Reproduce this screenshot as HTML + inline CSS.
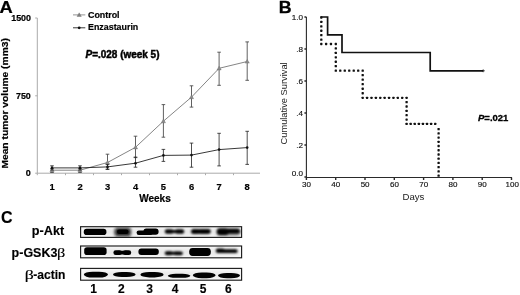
<!DOCTYPE html>
<html><head><meta charset="utf-8">
<style>
html,body{margin:0;padding:0;background:#fff;}
svg{display:block;will-change:transform;opacity:0.999;font-family:"Liberation Sans",sans-serif;}
.b{font-weight:bold;}
#pA text{stroke:#000;stroke-width:0.2px;}
#pC text{stroke:#000;stroke-width:0.15px;}
</style></head>
<body>
<svg width="520" height="295" viewBox="0 0 520 295">
<defs>
<filter id="bl" x="-20%" y="-50%" width="140%" height="200%"><feGaussianBlur stdDeviation="0.75"/></filter>
<filter id="bl3" x="-20%" y="-50%" width="140%" height="200%"><feGaussianBlur stdDeviation="1"/></filter>
<filter id="bl2" x="-20%" y="-50%" width="140%" height="200%"><feGaussianBlur stdDeviation="1.4"/></filter>
<clipPath id="c1"><rect x="80.6" y="226.7" width="161" height="10.7"/></clipPath><clipPath id="c2"><rect x="80.6" y="246" width="161" height="11.8"/></clipPath>
</defs>
<rect width="520" height="295" fill="#fff"/>

<!-- Panel A -->
<g id="pA">
<text transform="translate(-0.6,12.5) scale(1.16,1)" class="b" font-size="15.8" stroke="#000" stroke-width="0.3">A</text>
<text x="11.2" y="21.4" class="b" font-size="8.6" textLength="19.8" lengthAdjust="spacingAndGlyphs">1500</text>
<text x="16" y="98.8" class="b" font-size="8.6" textLength="14.8" lengthAdjust="spacingAndGlyphs">750</text>
<text x="25.8" y="176.2" class="b" font-size="8.6" textLength="5" lengthAdjust="spacingAndGlyphs">0</text>
<text transform="translate(7.5,168.6) rotate(-90)" class="b" font-size="9.2" textLength="130.5" lengthAdjust="spacingAndGlyphs">Mean tumor volume (mm3)</text>
<g stroke="#aaa" stroke-width="1" fill="none">
<path d="M37.3 18V173.2H260"/>
<path d="M35.2 18h2.1M35.2 95.8h2.1M35.2 173.2h2.1"/>
<path d="M37.3 173.2v2M65.5 173.2v2M93.5 173.2v2M121.5 173.2v2M149.5 173.2v2M177.5 173.2v2M205.5 173.2v2M233.5 173.2v2"/>
</g>
<!-- control -->
<g stroke="#444" stroke-width="0.85" fill="none">
<path d="M107.5 154.2V169M105.7 154.2h3.6M105.7 169h3.6"/>
<path d="M135.5 136.2V157.6M133.7 136.2h3.6M133.7 157.6h3.6"/>
<path d="M163.4 104.6V137.2M161.6 104.6h3.6M161.6 137.2h3.6"/>
<path d="M191.5 85.8V107.1M189.7 85.8h3.6M189.7 107.1h3.6"/>
<path d="M219.1 52.2V85.3M217.3 52.2h3.6M217.3 85.3h3.6"/>
<path d="M247.2 41.9V80.3M245.4 41.9h3.6M245.4 80.3h3.6"/>
<path d="M52 168.5V172.5M50.2 168.5h3.6M50.2 172.5h3.6M80 168.5V172.5M78.2 168.5h3.6M78.2 172.5h3.6"/>
</g>
<polyline points="52,170.2 80,170.2 107.5,162.5 135.5,147.3 163.4,121.2 191.5,97.1 219.1,68.3 247.2,61.5" fill="none" stroke="#777" stroke-width="0.9"/>
<g fill="#8c8c8c" stroke="#6a6a6a" stroke-width="0.4">
<path d="M52 168.1l2.1 3.7h-4.2zM80 168.1l2.1 3.7h-4.2zM107.5 160.4l2.1 3.7h-4.2zM135.5 145.2l2.1 3.7h-4.2zM163.4 119.1l2.1 3.7h-4.2zM191.5 95.0l2.1 3.7h-4.2zM219.1 66.2l2.1 3.7h-4.2zM247.2 59.4l2.1 3.7h-4.2z"/>
</g>
<!-- enzastaurin -->
<g stroke="#222" stroke-width="0.8" fill="none">
<path d="M52 165.8V170M50.2 165.8h3.6M50.2 170h3.6M80 165.8V170M78.2 165.8h3.6M78.2 170h3.6"/>
<path d="M107.5 164.5V169.5M105.7 164.5h3.6M105.7 169.5h3.6"/>
<path d="M135.5 157.1V167.2M133.7 157.1h3.6M133.7 167.2h3.6"/>
<path d="M163.4 149.4V161.4M161.6 149.4h3.6M161.6 161.4h3.6"/>
<path d="M191.5 143.1V167.2M189.7 143.1h3.6M189.7 167.2h3.6"/>
<path d="M219.1 133.3V165.9M217.3 133.3h3.6M217.3 165.9h3.6"/>
<path d="M247.2 131.3V164.4M245.4 131.3h3.6M245.4 164.4h3.6"/>
</g>
<polyline points="52,167.9 80,167.9 107.5,166.9 135.5,163.2 163.4,155.4 191.5,155.1 219.1,149.6 247.2,147.6" fill="none" stroke="#222" stroke-width="0.9"/>
<g fill="#111">
<circle cx="52" cy="167.9" r="1.3"/><circle cx="80" cy="167.9" r="1.3"/><circle cx="107.5" cy="166.9" r="1.3"/><circle cx="135.5" cy="163.2" r="1.3"/><circle cx="163.4" cy="155.4" r="1.3"/><circle cx="191.5" cy="155.1" r="1.3"/><circle cx="219.1" cy="149.6" r="1.3"/><circle cx="247.2" cy="147.6" r="1.3"/>
</g>
<g class="b" font-size="9.4" text-anchor="middle">
<text x="52" y="190">1</text><text x="80" y="190">2</text><text x="107.5" y="190">3</text><text x="135.5" y="190">4</text><text x="163.4" y="190">5</text><text x="191.5" y="190">6</text><text x="219.1" y="190">7</text><text x="247.2" y="190">8</text>
</g>
<text x="155" y="202" class="b" font-size="10" text-anchor="middle">Weeks</text>
<!-- legend -->
<path d="M73 14.9h12.3" stroke="#888" stroke-width="0.9"/>
<path d="M79.2 12.8l2.1 3.7h-4.2z" fill="#808080" stroke="#6a6a6a" stroke-width="0.4"/>
<text x="88" y="18" class="b" font-size="9.6" textLength="31.6" lengthAdjust="spacingAndGlyphs">Control</text>
<path d="M73 27.8h12.3" stroke="#222" stroke-width="0.9"/>
<circle cx="79.2" cy="27.8" r="1.4" fill="#111"/>
<text x="88" y="30.4" class="b" font-size="9.6" textLength="50.3" lengthAdjust="spacingAndGlyphs">Enzastaurin</text>
<text x="85.5" y="58.4" class="b" font-size="10" textLength="74" lengthAdjust="spacingAndGlyphs" style="stroke:#000;stroke-width:0.45px"><tspan font-style="italic">P</tspan>=.028 (week 5)</text>
</g>

<!-- Panel B -->
<g id="pB">
<text transform="translate(278.8,12.5) scale(1.14,1)" class="b" font-size="15.6" stroke="#000" stroke-width="0.3">B</text>
<g font-size="8.1" text-anchor="end" fill="#111" stroke="#111" stroke-width="0.15">
<text x="303.1" y="19.9">1.0</text><text x="303.1" y="51.9">.8</text><text x="303.1" y="83.9">.6</text><text x="303.1" y="115.9">.4</text><text x="303.1" y="147.9">.2</text><text x="303" y="176">0.0</text>
</g>
<text transform="translate(287.2,144.5) rotate(-90)" font-size="9.3" fill="#222">Cumulative Survival</text>
<g stroke="#2a2a2a" stroke-width="1.1" fill="none">
<path d="M306.4 17V177.5H512"/>
<path d="M304.4 17h2M304.4 49h2M304.4 81h2M304.4 113h2M304.4 145h2M304.4 177h2" stroke-width="1.3"/>
<path d="M306.4 177.5v2.6M335.7 177.5v2.6M365 177.5v2.6M394.3 177.5v2.6M423.6 177.5v2.6M452.9 177.5v2.6M482.2 177.5v2.6M511.5 177.5v2.6" stroke-width="1.4"/>
</g>
<g font-size="8" text-anchor="middle" fill="#111" stroke="#111" stroke-width="0.15">
<text x="306.5" y="186.8">30</text><text x="335.8" y="186.8">40</text><text x="365.1" y="186.8">50</text><text x="394.4" y="186.8">60</text><text x="423.7" y="186.8">70</text><text x="453" y="186.8">80</text><text x="482.3" y="186.8">90</text><text x="512.3" y="186.8">100</text>
</g>
<text x="413.4" y="199.6" font-size="9.6" text-anchor="middle" fill="#222">Days</text>
<path d="M320.6 17H327.6V34.8H342V52.5H430.2V70.8H483" fill="none" stroke="#111" stroke-width="1.7"/>
<path d="M483.2 69.4v2.8M481.8 70.8h3" stroke="#111" stroke-width="0.8"/>
<g fill="#111"><rect x="320.15" y="16.35" width="2.3" height="2.3" rx="0.6"/><rect x="320.15" y="20.77" width="2.3" height="2.3" rx="0.6"/><rect x="320.15" y="25.18" width="2.3" height="2.3" rx="0.6"/><rect x="320.15" y="29.60" width="2.3" height="2.3" rx="0.6"/><rect x="320.15" y="34.02" width="2.3" height="2.3" rx="0.6"/><rect x="320.15" y="38.43" width="2.3" height="2.3" rx="0.6"/><rect x="320.15" y="42.85" width="2.3" height="2.3" rx="0.6"/><rect x="324.98" y="42.85" width="2.3" height="2.3" rx="0.6"/><rect x="329.82" y="42.85" width="2.3" height="2.3" rx="0.6"/><rect x="334.65" y="42.85" width="2.3" height="2.3" rx="0.6"/><rect x="334.65" y="47.28" width="2.3" height="2.3" rx="0.6"/><rect x="334.65" y="51.72" width="2.3" height="2.3" rx="0.6"/><rect x="334.65" y="56.15" width="2.3" height="2.3" rx="0.6"/><rect x="334.65" y="60.58" width="2.3" height="2.3" rx="0.6"/><rect x="334.65" y="65.02" width="2.3" height="2.3" rx="0.6"/><rect x="334.65" y="69.45" width="2.3" height="2.3" rx="0.6"/><rect x="339.13" y="69.45" width="2.3" height="2.3" rx="0.6"/><rect x="343.62" y="69.45" width="2.3" height="2.3" rx="0.6"/><rect x="348.10" y="69.45" width="2.3" height="2.3" rx="0.6"/><rect x="352.58" y="69.45" width="2.3" height="2.3" rx="0.6"/><rect x="357.07" y="69.45" width="2.3" height="2.3" rx="0.6"/><rect x="361.55" y="69.45" width="2.3" height="2.3" rx="0.6"/><rect x="361.55" y="73.98" width="2.3" height="2.3" rx="0.6"/><rect x="361.55" y="78.52" width="2.3" height="2.3" rx="0.6"/><rect x="361.55" y="83.05" width="2.3" height="2.3" rx="0.6"/><rect x="361.55" y="87.58" width="2.3" height="2.3" rx="0.6"/><rect x="361.55" y="92.12" width="2.3" height="2.3" rx="0.6"/><rect x="361.55" y="96.65" width="2.3" height="2.3" rx="0.6"/><rect x="365.94" y="96.65" width="2.3" height="2.3" rx="0.6"/><rect x="370.33" y="96.65" width="2.3" height="2.3" rx="0.6"/><rect x="374.72" y="96.65" width="2.3" height="2.3" rx="0.6"/><rect x="379.11" y="96.65" width="2.3" height="2.3" rx="0.6"/><rect x="383.50" y="96.65" width="2.3" height="2.3" rx="0.6"/><rect x="387.89" y="96.65" width="2.3" height="2.3" rx="0.6"/><rect x="392.28" y="96.65" width="2.3" height="2.3" rx="0.6"/><rect x="396.67" y="96.65" width="2.3" height="2.3" rx="0.6"/><rect x="401.06" y="96.65" width="2.3" height="2.3" rx="0.6"/><rect x="405.45" y="96.65" width="2.3" height="2.3" rx="0.6"/><rect x="405.45" y="101.00" width="2.3" height="2.3" rx="0.6"/><rect x="405.45" y="105.35" width="2.3" height="2.3" rx="0.6"/><rect x="405.45" y="109.70" width="2.3" height="2.3" rx="0.6"/><rect x="405.45" y="114.05" width="2.3" height="2.3" rx="0.6"/><rect x="405.45" y="118.40" width="2.3" height="2.3" rx="0.6"/><rect x="405.45" y="122.75" width="2.3" height="2.3" rx="0.6"/><rect x="409.54" y="122.75" width="2.3" height="2.3" rx="0.6"/><rect x="413.62" y="122.75" width="2.3" height="2.3" rx="0.6"/><rect x="417.71" y="122.75" width="2.3" height="2.3" rx="0.6"/><rect x="421.79" y="122.75" width="2.3" height="2.3" rx="0.6"/><rect x="425.88" y="122.75" width="2.3" height="2.3" rx="0.6"/><rect x="429.96" y="122.75" width="2.3" height="2.3" rx="0.6"/><rect x="434.05" y="122.75" width="2.3" height="2.3" rx="0.6"/><rect x="437.45" y="127.95" width="2.3" height="2.3" rx="0.6"/><rect x="437.45" y="132.18" width="2.3" height="2.3" rx="0.6"/><rect x="437.45" y="136.41" width="2.3" height="2.3" rx="0.6"/><rect x="437.45" y="140.64" width="2.3" height="2.3" rx="0.6"/><rect x="437.45" y="144.87" width="2.3" height="2.3" rx="0.6"/><rect x="437.45" y="149.10" width="2.3" height="2.3" rx="0.6"/><rect x="437.45" y="153.33" width="2.3" height="2.3" rx="0.6"/><rect x="437.45" y="157.56" width="2.3" height="2.3" rx="0.6"/><rect x="437.45" y="161.79" width="2.3" height="2.3" rx="0.6"/><rect x="437.45" y="166.02" width="2.3" height="2.3" rx="0.6"/><rect x="437.45" y="170.25" width="2.3" height="2.3" rx="0.6"/><rect x="437.45" y="174.48" width="2.3" height="2.3" rx="0.6"/></g>
<text x="478" y="120.6" class="b" font-size="9.8" textLength="30.4" lengthAdjust="spacingAndGlyphs" style="stroke:#000;stroke-width:0.3px"><tspan font-style="italic">P</tspan>=.021</text>
</g>

<!-- Panel C -->
<g id="pC">
<text x="1.1" y="222.6" class="b" font-size="16">C</text>
<text x="31.8" y="234.6" class="b" font-size="12.3" textLength="32.4" lengthAdjust="spacingAndGlyphs">p-Akt</text>
<text x="11.6" y="257.4" class="b" font-size="12.3" textLength="45.8" lengthAdjust="spacingAndGlyphs">p-GSK3</text>
<text transform="translate(56.9,256.5) scale(1.25,1)" font-family="Liberation Serif" font-size="13">β</text>
<text transform="translate(24.7,279.2) scale(1.37,1)" font-family="Liberation Serif" font-size="13">β</text>
<text x="33.2" y="278.9" class="b" font-size="12.3" textLength="32.2" lengthAdjust="spacingAndGlyphs">-actin</text>
<g fill="#f7f7f7" stroke="#1c1c1c" stroke-width="1.15">
<rect x="80.6" y="226.7" width="161" height="10.7"/>
<rect x="80.6" y="246" width="161" height="11.8"/>
<rect x="80.6" y="268.4" width="161" height="11.8"/>
</g>
<!-- faint smear -->
<g filter="url(#bl2)" fill="#888" opacity="0.12">
<rect x="84" y="228.5" width="155" height="7" rx="3"/>
<rect x="84" y="248.5" width="155" height="7" rx="3"/>
<rect x="84" y="271.5" width="155" height="6" rx="3"/>
</g>
<g clip-path="url(#c1)"><g filter="url(#bl2)">
<rect x="114.6" y="227.8" width="16.4" height="8.6" rx="3" fill="#111" opacity="0.9"/>
<rect x="216.5" y="228.4" width="24" height="7" rx="3" fill="#444" opacity="0.6"/>
</g></g>
<g fill="#060606" filter="url(#bl)">
<!-- row1 -->
<rect x="83.8" y="228.8" width="22.6" height="6.2" rx="2.8"/>
<rect x="117" y="229.5" width="11.5" height="4.6" rx="2.3"/>
<rect x="143.4" y="228.4" width="15.2" height="6.4" rx="3"/>
<rect x="136.6" y="230.4" width="16" height="4.6" rx="2.2"/>
<!-- row2 -->
<rect x="84.2" y="247.3" width="22.4" height="7.8" rx="2.8"/>
<rect x="113.4" y="250.2" width="8.4" height="4.8" rx="2.3"/>
<rect x="122.8" y="250.2" width="8.4" height="4.8" rx="2.3"/>
<rect x="116" y="250.8" width="13" height="3.8" rx="1.8"/>
<rect x="138.4" y="248.4" width="20.4" height="6.6" rx="3"/>
<rect x="189.2" y="247.9" width="21.6" height="8" rx="3.4"/>
<!-- row3 -->
<rect x="83.8" y="271.7" width="24.2" height="5.8" rx="9" ry="2.9"/>
<rect x="113" y="272" width="22.6" height="5" rx="9" ry="2.5"/>
<rect x="140.4" y="272" width="23.2" height="5.4" rx="9" ry="2.7"/>
<rect x="167.8" y="273.8" width="22.6" height="4" rx="8" ry="2"/>
<rect x="192.8" y="272.4" width="22.8" height="5.8" rx="9" ry="2.9"/>
<rect x="218" y="273" width="22" height="5.2" rx="9" ry="2.6"/>
</g>
<g fill="#050505" filter="url(#bl3)">
<rect x="191" y="228.9" width="9.5" height="5.2" rx="2.5"/>
<rect x="198" y="229" width="12.8" height="4.9" rx="2.4"/>
<rect x="217" y="228.6" width="11.6" height="6.4" rx="3"/>
<rect x="224" y="229.1" width="15.8" height="4.4" rx="2.1"/>
<rect x="164.8" y="229.3" width="8.8" height="4.4" rx="2.2"/>
<rect x="175" y="229.3" width="9.2" height="4.4" rx="2.2"/>
<rect x="167" y="229.9" width="15" height="3.2" rx="1.5"/>
<rect x="164.8" y="251.2" width="7.8" height="4" rx="2"/>
<rect x="173.6" y="251.4" width="9.2" height="3.8" rx="1.9"/>
<rect x="167" y="251.8" width="13" height="3" rx="1.4"/>
<rect x="215.8" y="248.6" width="9" height="4.4" rx="2.2"/>
<rect x="219" y="249.2" width="18.6" height="3.8" rx="1.8"/>
</g>
<g class="b" font-size="12" text-anchor="middle">
<text x="93.5" y="292.8">1</text><text x="121.4" y="292.8">2</text><text x="149.6" y="292.8">3</text><text x="175.2" y="292.8">4</text><text x="203.2" y="292.8">5</text><text x="228.4" y="292.8">6</text>
</g>
</g>
</svg>
</body></html>
